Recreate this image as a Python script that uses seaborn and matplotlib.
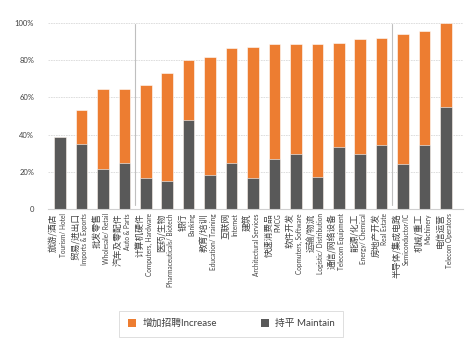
import matplotlib
matplotlib.use("Agg")
import matplotlib.pyplot as plt
import seaborn as sns
import pandas as pd
import numpy as np
from matplotlib.patches import Patch
from matplotlib.transforms import blended_transform_factory, ScaledTranslation

cat_cn = ["旅游/酒店", "贸易/进出口", "批发零售", "汽车及零配件", "计算机硬件", "医药/生物",
          "银行", "教育/培训", "互联网", "建筑", "快速消费品", "软件开发", "运输/物流",
          "通信/网络设备", "能源/化工", "房地产开发", "半导体/集成电路", "机械/重工", "电信运营"]
cat_en = ["Tourism/ Hotel", "Imports & Exports", "Wholesale/ Retail", "Auto & Parts",
          "Computers, Hardware", "Pharmaceuticals/ Biotech", "Banking", "Education/ Training",
          "Internet", "Architectural Services", "FMCG", "Copmuters, Software",
          "Logistic/ Distribution", "Telecom Equipment", "Energy/ Chemical", "Real Estate",
          "Semiconductor/IC", "Machinery", "Telecom Operators"]
maintain = [39, 35, 21.5, 25, 16.5, 15, 48, 18.5, 25, 16.5, 27, 29.5, 17.5, 33.5, 29.5, 34.5, 24, 34.5, 55]
increase = [0, 18, 43, 39.5, 50, 58, 32, 63.5, 61.5, 70.5, 61.5, 59, 71, 55.5, 62, 57.5, 70, 61, 45]
yticks = [0, 20, 40, 60, 80, 100]
ytick_labels = ["0", "20%", "40%", "60%", "80%", "100%"]
legend_labels = ["增加招聘Increase", "持平 Maintain"]
separators_after = [3, 15]

ORANGE = "#ED7D31"
DARK = "#595959"

df = pd.DataFrame({"cat": cat_cn, "maintain": maintain, "increase": increase})
df["total"] = df["maintain"] + df["increase"]

sns.set_theme(style="white")
plt.rcParams["font.family"] = ["Lato", "Noto Sans CJK SC", "DejaVu Sans"]

fig = plt.figure(figsize=(4.75, 3.45), dpi=100)
ax = fig.add_axes([0.101, 0.394, 0.874, 0.542])

sns.barplot(data=df, x="cat", y="total", color=ORANGE, width=0.54, ax=ax,
            saturation=1, edgecolor="white", linewidth=0.4)
sns.barplot(data=df, x="cat", y="maintain", color=DARK, width=0.54, ax=ax,
            saturation=1, edgecolor="white", linewidth=0.4)

ax.set_xlim(-0.56, len(cat_cn) - 0.2)
ax.set_ylim(0, 100.5)
ax.set_yticks(yticks)
ax.set_yticklabels(ytick_labels, fontsize=5.5, color="#404040")
ax.tick_params(axis="y", length=0, pad=10)
ax.tick_params(axis="x", length=0)
ax.set_xticks(range(len(cat_cn)))
ax.set_xticklabels([])
ax.set_xlabel("")
ax.set_ylabel("")
for y in yticks[1:]:
    ax.axhline(y, color="#D9D9D9", lw=0.6, ls=(0, (2, 1)), zorder=0)
for s in ["left", "right", "top"]:
    ax.spines[s].set_visible(False)
ax.spines["bottom"].set_color("#D0D0D0")
ax.spines["bottom"].set_linewidth(0.8)

for k in separators_after:
    ax.axvline(k + 0.5, ymin=0.02, ymax=0.99, color="#BFBFBF", lw=0.8, zorder=0)

trans = blended_transform_factory(ax.transData, ax.transAxes)
off = ScaledTranslation(0, -3 / 72, fig.dpi_scale_trans)
for i, (cn, en) in enumerate(zip(cat_cn, cat_en)):
    ax.text(i - 0.27, 0, cn, rotation=90, ha="center", va="top", fontsize=6.3,
            color="#404040", family=["Noto Sans CJK SC", "DejaVu Sans"], transform=trans + off)
    ax.text(i + 0.15, 0, en, rotation=90, ha="center", va="top", fontsize=4.7,
            color="#404040", family=["Lato", "DejaVu Sans"], transform=trans + off)

handles = [Patch(facecolor=ORANGE, edgecolor="none"), Patch(facecolor=DARK, edgecolor="none")]
leg = fig.legend(handles, legend_labels, loc="center", bbox_to_anchor=(0.487, 0.062),
                 ncol=2, frameon=True, fancybox=False, fontsize=7, handlelength=0.9,
                 handleheight=0.9, columnspacing=4.5, handletextpad=0.6, borderpad=0.85,
                 edgecolor="#D0D0D0")
leg.get_frame().set_linewidth(0.6)
for t in leg.get_texts():
    t.set_color("#404040")

fig.savefig("out.png", dpi=100)
